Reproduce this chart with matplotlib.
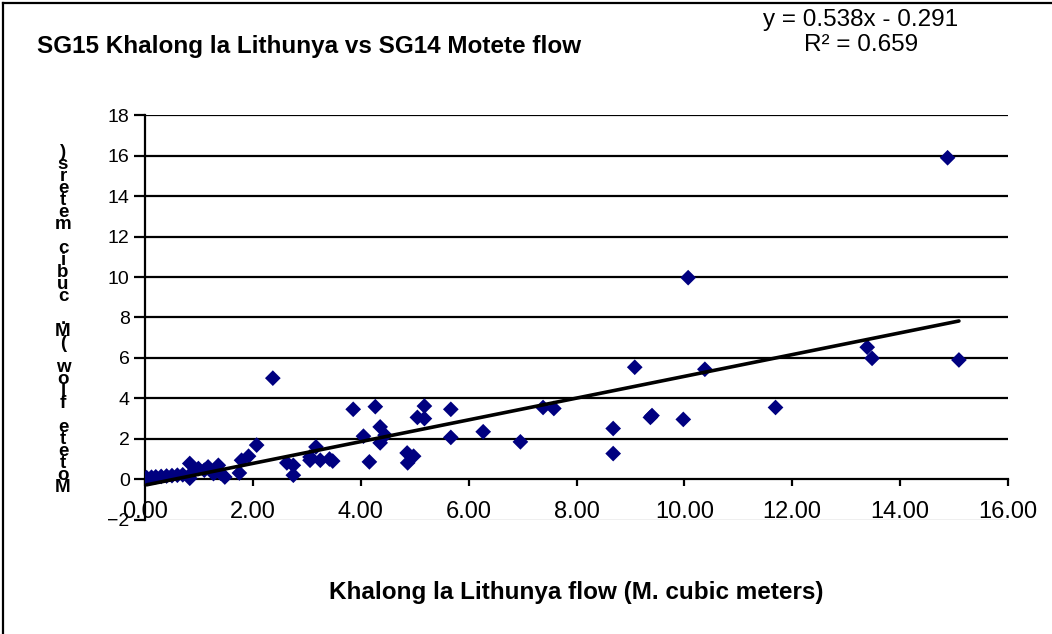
import matplotlib
matplotlib.use("Agg")
import matplotlib.pyplot as plt
from matplotlib.lines import Line2D

plt.rcParams['font.family'] = ['Liberation Sans', 'DejaVu Sans']

# Data
khalong_flow = [0.03, 0.12, 0.20, 0.30, 0.40, 0.50, 0.60, 0.70,
                0.83, 0.83, 0.90, 0.99, 1.10, 1.17, 1.27, 1.36, 1.40, 1.48,
                1.75, 1.79, 1.92, 2.07, 2.37,
                2.63, 2.75, 2.75, 3.06, 3.06, 3.17, 3.25, 3.42, 3.48,
                3.86, 4.05, 4.16, 4.27, 4.36, 4.36, 4.45,
                4.86, 4.87, 4.98, 5.05, 5.18, 5.18,
                5.67, 5.67, 6.27, 6.96, 7.38, 7.58,
                8.68, 8.68, 9.08, 9.37, 9.40, 9.98, 10.07, 10.38,
                11.69, 13.39, 13.48, 14.88, 15.09]
motete_flow = [0.08, 0.10, 0.12, 0.14, 0.16, 0.18, 0.20, 0.22,
               0.78, 0.05, 0.40, 0.53, 0.45, 0.61, 0.28, 0.69, 0.30, 0.11,
               0.31, 0.94, 1.14, 1.69, 5.00,
               0.81, 0.69, 0.20, 0.94, 1.10, 1.60, 0.94, 1.00, 0.90,
               3.46, 2.13, 0.86, 3.59, 2.59, 1.80, 2.18,
               1.30, 0.81, 1.14, 3.06, 3.62, 3.00,
               3.46, 2.07, 2.35, 1.85, 3.55, 3.50,
               2.51, 1.27, 5.54, 3.06, 3.15, 2.96, 9.97, 5.44,
               3.55, 6.53, 5.98, 15.90, 5.90]

slope = 0.538
intercept = -0.291
r_squared = 0.659

x_ticks = [0, 2, 4, 6, 8, 10, 12, 14, 16]
x_tick_labels = ["0.00", "2.00", "4.00", "6.00", "8.00", "10.00", "12.00", "14.00", "16.00"]
y_ticks = [-2, 0, 2, 4, 6, 8, 10, 12, 14, 16, 18]

title = "SG15 Khalong la Lithunya vs SG14 Motete flow"
x_title = "Khalong la Lithunya flow (M. cubic meters)"
y_title = "Motete flow (M. cubic meters)"

W, H = 1052, 634
fig = plt.figure(figsize=(W / 100, H / 100), dpi=100)
fig.patch.set_facecolor('white')

left, right = 145 / W, 1008 / W
top_px, bot_px = 115.3, 519.7
ax = fig.add_axes([left, 1 - bot_px / H, right - left, (bot_px - top_px) / H])
ax.set_xlim(0, 16)
ax.set_ylim(-2, 18)

# gridlines
for yv in y_ticks:
    if yv > 0:
        ax.axhline(yv, color='black', lw=1.6, zorder=1)
# plot area bottom border (gray)
ax.axhline(-2, color='#b0b0b0', lw=1.0, zorder=1)

ax.scatter(khalong_flow, motete_flow, marker='D', s=64, color='#000080',
           edgecolors='none', zorder=3)

xs = [min(khalong_flow), max(khalong_flow)]
ax.plot(xs, [slope * v + intercept for v in xs], color='black', lw=2.6,
        zorder=4, solid_capstyle='round')

for s in ['top', 'right']:
    ax.spines[s].set_visible(False)
ax.spines['bottom'].set_position(('data', 0))
ax.spines['bottom'].set_linewidth(1.6)
ax.spines['left'].set_linewidth(1.6)
ax.spines['bottom'].set_zorder(2)

ax.set_xticks(x_ticks)
ax.set_xticklabels(x_tick_labels)
ax.set_yticks(y_ticks)
ax.tick_params(axis='x', direction='out', length=5, width=1.6, pad=11, labelsize=17)
ax.tick_params(axis='y', direction='out', length=8, width=1.6, pad=3, labelsize=14)
for lab in ax.get_xticklabels():
    lab.set_zorder(5)

# Titles / annotations
fig.text(37 / W, 1 - 47 / H, title, fontsize=17.5, fontweight='bold',
         ha='left', va='center')
fig.text(861 / W, 1 - 20 / H, "y = %.3fx - %.3f" % (slope, -intercept),
         fontsize=17.5, ha='center', va='center')
fig.text(861 / W, 1 - 45 / H, "R² = %.3f" % r_squared,
         fontsize=17.5, ha='center', va='center')
fig.text(576 / W, 1 - 592 / H, x_title, fontsize=17.5, fontweight='bold',
         ha='center', va='center')
fig.text(63 / W, 1 - 320 / H, "\n".join(reversed(y_title)), fontsize=13.5,
         fontweight='bold', ha='center', va='center', linespacing=0.615)

# chart outer frame (left and top)
fig.add_artist(Line2D([3 / W, 3 / W], [0, 1 - 3 / H], transform=fig.transFigure,
                      color='black', lw=1.6))
fig.add_artist(Line2D([3 / W, 1], [1 - 3 / H, 1 - 3 / H], transform=fig.transFigure,
                      color='black', lw=1.6))

fig.savefig("out.png", dpi=100, facecolor='white')
